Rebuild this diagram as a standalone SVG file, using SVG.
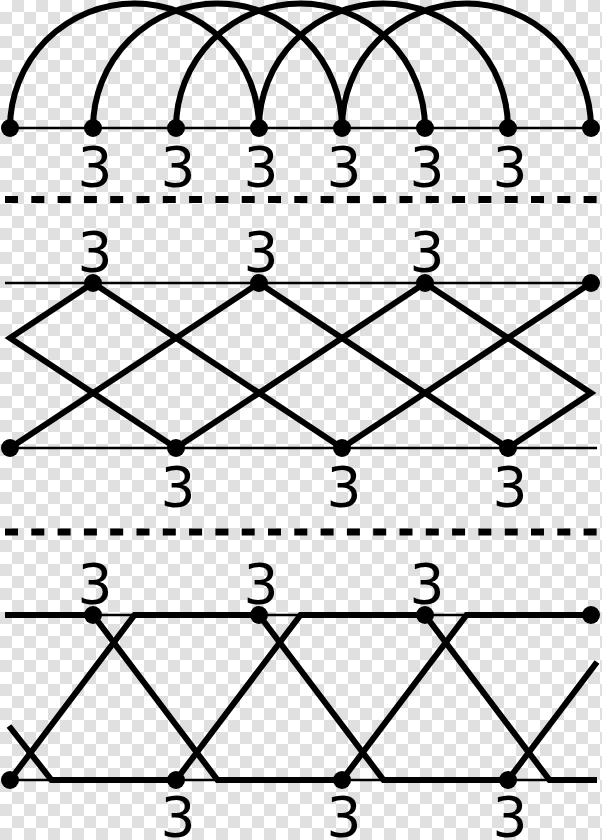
<svg xmlns="http://www.w3.org/2000/svg" width="602" height="840" viewBox="0 0 602 840">
<defs>
<pattern id="checker" width="24" height="24" patternUnits="userSpaceOnUse">
<rect width="24" height="24" fill="#ffffff"/>
<rect x="12" y="0" width="12" height="12" fill="#e0e0e0"/>
<rect x="0" y="12" width="12" height="12" fill="#e0e0e0"/>
</pattern>
</defs>
<style>
.thin{stroke:#000;stroke-width:2.5;fill:none}
.thick{stroke:#000;stroke-width:6;fill:none;stroke-linejoin:miter;stroke-miterlimit:10}
.dash{stroke:#000;stroke-width:7;fill:none;stroke-dasharray:13 13.3}
.dot{fill:#000}
.lbl{font-family:"DejaVu Sans","Noto Sans",sans-serif;font-size:55px;fill:#000;text-anchor:middle}
</style>
<rect width="602" height="840" fill="url(#checker)"/>
<g id="connectors">
<line class="thin" x1="10" y1="128" x2="591" y2="128"/>
<path class="thick" d="M10,128 A124.5,124.5 0 0 1 259,128 M93,128 A124.5,124.5 0 0 1 342,128 M176,128 A124.5,124.5 0 0 1 425,128 M259,128 A124.5,124.5 0 0 1 508,128 M342,128 A124.5,124.5 0 0 1 591,128"/>
<line class="dash" x1="5" y1="199.5" x2="597" y2="199.5"/>
<line class="thin" x1="5" y1="283" x2="591" y2="283"/>
<line class="thin" x1="10" y1="448" x2="597" y2="448"/>
<polyline class="thick" points="10,448 259,283 508,448"/>
<polyline class="thick" points="93,283 342,448 591,283"/>
<polyline class="thick" points="93,283 10,338 176,448 425,283 591,393 508,448"/>
<line class="dash" x1="5" y1="532" x2="597" y2="532"/>
<line class="thin" x1="5" y1="615" x2="591" y2="615"/>
<line class="thin" x1="10" y1="780" x2="597" y2="780"/>
<polyline class="thick" points="5,615 93,615 217.5,780 342,780 466.5,615 591,615"/>
<polyline class="thick" points="10,780 134.5,615 259,615 383.5,780 508,780 597,662"/>
<polyline class="thick" points="9,726 51.5,780 176,780 300.5,615 425,615 549.5,780 597,780"/>
</g>
<g id="row1">
<circle class="dot" cx="10" cy="128" r="9"/>
<g id="n1-93"><circle class="dot" cx="93" cy="128" r="9"/><text class="lbl" x="95" y="186">3</text></g>
<g id="n1-176"><circle class="dot" cx="176" cy="128" r="9"/><text class="lbl" x="178" y="186">3</text></g>
<g id="n1-259"><circle class="dot" cx="259" cy="128" r="9"/><text class="lbl" x="261" y="186">3</text></g>
<g id="n1-342"><circle class="dot" cx="342" cy="128" r="9"/><text class="lbl" x="344" y="186">3</text></g>
<g id="n1-425"><circle class="dot" cx="425" cy="128" r="9"/><text class="lbl" x="427" y="186">3</text></g>
<g id="n1-508"><circle class="dot" cx="508" cy="128" r="9"/><text class="lbl" x="510" y="186">3</text></g>
<circle class="dot" cx="591" cy="128" r="9"/>
</g>
<g id="row2">
<g id="n2-93"><circle class="dot" cx="93" cy="283" r="9"/><text class="lbl" x="95" y="271">3</text></g>
<g id="n2-259"><circle class="dot" cx="259" cy="283" r="9"/><text class="lbl" x="261" y="271">3</text></g>
<g id="n2-425"><circle class="dot" cx="425" cy="283" r="9"/><text class="lbl" x="427" y="271">3</text></g>
<circle class="dot" cx="591" cy="283" r="9"/>
<circle class="dot" cx="10" cy="448" r="9"/>
<g id="n2-176"><circle class="dot" cx="176" cy="448" r="9"/><text class="lbl" x="178" y="506">3</text></g>
<g id="n2-342"><circle class="dot" cx="342" cy="448" r="9"/><text class="lbl" x="344" y="506">3</text></g>
<g id="n2-508"><circle class="dot" cx="508" cy="448" r="9"/><text class="lbl" x="510" y="506">3</text></g>
</g>
<g id="row3">
<g id="n3-93"><circle class="dot" cx="93" cy="615" r="9"/><text class="lbl" x="95" y="603">3</text></g>
<g id="n3-259"><circle class="dot" cx="259" cy="615" r="9"/><text class="lbl" x="261" y="603">3</text></g>
<g id="n3-425"><circle class="dot" cx="425" cy="615" r="9"/><text class="lbl" x="427" y="603">3</text></g>
<circle class="dot" cx="591" cy="615" r="9"/>
<circle class="dot" cx="10" cy="780" r="9"/>
<g id="n3-176"><circle class="dot" cx="176" cy="780" r="9"/><text class="lbl" x="178" y="836">3</text></g>
<g id="n3-342"><circle class="dot" cx="342" cy="780" r="9"/><text class="lbl" x="344" y="836">3</text></g>
<g id="n3-508"><circle class="dot" cx="508" cy="780" r="9"/><text class="lbl" x="510" y="836">3</text></g>
</g>
</svg>
